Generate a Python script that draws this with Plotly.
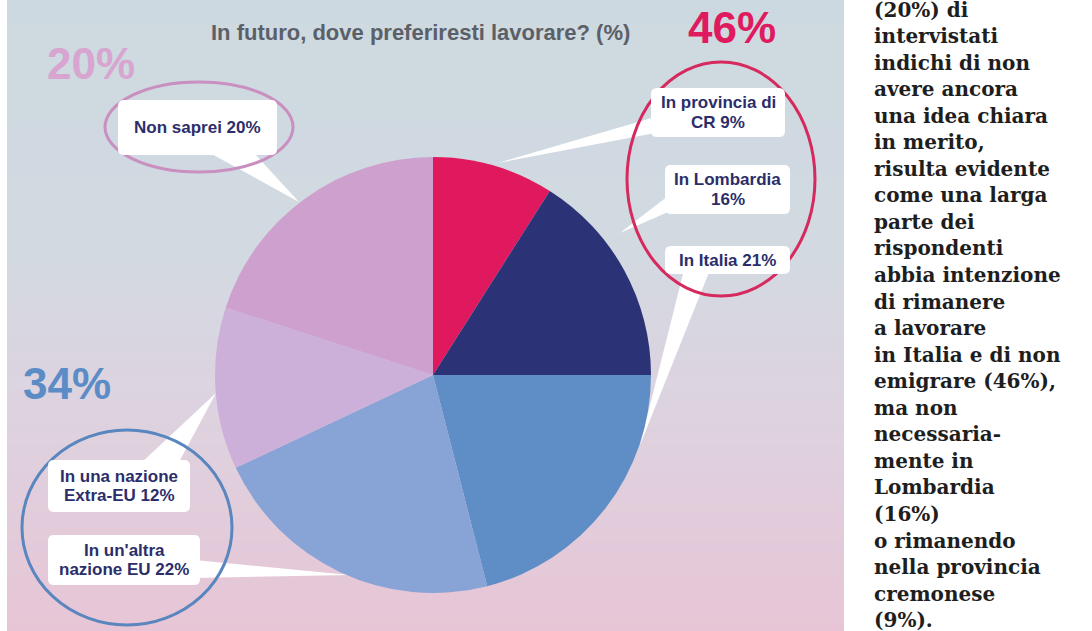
import plotly.graph_objects as go

W, H = 1092, 631

# ---------------- data ----------------
categories = ["In provincia di CR", "In Lombardia", "In Italia",
              "In un'altra nazione EU", "In una nazione Extra-EU", "Non saprei"]
values = [9, 16, 21, 22, 12, 20]
slice_colors = ["#E0195F", "#2B3276", "#5F8EC6", "#88A3D6", "#CDB0DA", "#CDA0CD"]
callout_lines = [["In provincia di", "CR 9%"],
                 ["In Lombardia", "16%"],
                 ["In Italia 21%"],
                 ["In un'altra", "nazione EU 22%"],
                 ["In una nazione", "Extra-EU 12%"],
                 ["Non saprei 20%"]]
groups = {"italia": [0, 1, 2], "estero": [3, 4], "nonso": [5]}
title_text = "In futuro, dove preferiresti lavorare? (%)"
column_lines = ["(20%) di", "intervistati", "indichi di non", "avere ancora",
                "una idea chiara", "in merito,", "risulta evidente",
                "come una larga", "parte dei", "rispondenti",
                "abbia intenzione", "di rimanere", "a lavorare",
                "in Italia e di non", "emigrare (46%),", "ma non",
                "necessaria-", "mente in", "Lombardia", "(16%)",
                "o rimanendo", "nella provincia", "cremonese", "(9%)."]

# ---------------- layout helpers (pixel -> paper) ----------------
def X(px):
    return px / W

def Y(py):
    return 1 - py / H

def hex2rgb(h):
    h = h.lstrip("#")
    return tuple(int(h[i:i + 2], 16) for i in (0, 2, 4))

shapes = []
annotations = []

# background gradient panel
PX0, PX1 = 7, 844
stops = [(0, "#CDD9E0"), (250, "#D2D9E1"), (400, "#DDD3E0"), (631, "#E7C5D6")]
step = 6
for y0 in range(0, H, step):
    yc = y0 + step / 2
    for (a, ca), (b, cb) in zip(stops[:-1], stops[1:]):
        if a <= yc <= b:
            t = (yc - a) / (b - a)
            r1, g1, b1 = hex2rgb(ca)
            r2, g2, b2 = hex2rgb(cb)
            col = "rgb(%d,%d,%d)" % (round(r1 + (r2 - r1) * t), round(g1 + (g2 - g1) * t), round(b1 + (b2 - b1) * t))
            break
    shapes.append(dict(type="rect", xref="paper", yref="paper", layer="below",
                       x0=X(PX0), x1=X(PX1), y0=Y(y0), y1=Y(min(y0 + step + 1, H)),
                       fillcolor=col, line=dict(width=0)))

# callout geometry, same order as categories
boxes = [(651, 88, 785, 137), (665, 165, 790, 214), (665, 246, 790, 274),
         (48, 535, 200, 585), (48, 460, 190, 512), (118, 100, 277, 155)]
pointers = [[(655, 117), (655, 133), (498, 163)],
            [(668, 196), (668, 212), (620, 233)],
            [(684, 270), (710, 270), (640, 445)],
            [(195, 560), (195, 578), (350, 575)],
            [(140, 464), (178, 464), (216, 393)],
            [(208, 152), (253, 152), (299, 202)]]

for tri in pointers:
    p = "M %f,%f " % (X(tri[0][0]), Y(tri[0][1]))
    p += " ".join("L %f,%f" % (X(a), Y(b)) for a, b in tri[1:]) + " Z"
    shapes.append(dict(type="path", xref="paper", yref="paper", layer="below",
                       path=p, fillcolor="white", line=dict(width=0)))

# group ellipses
ellipses = [((627, 62, 815, 296), "#D62A5E"),
            ((22, 430, 232, 625), "#5A86BF"),
            ((105, 82, 293, 172), "#C98FC0")]
for (x0, y0, x1, y1), c in ellipses:
    shapes.append(dict(type="circle", xref="paper", yref="paper", layer="above",
                       x0=X(x0), x1=X(x1), y0=Y(y1), y1=Y(y0),
                       line=dict(color=c, width=3), fillcolor="rgba(0,0,0,0)"))

def rrect(x0, y0, x1, y1, r=6):
    pts = [
        "M %f,%f" % (X(x0 + r), Y(y0)),
        "L %f,%f" % (X(x1 - r), Y(y0)),
        "Q %f,%f %f,%f" % (X(x1), Y(y0), X(x1), Y(y0 + r)),
        "L %f,%f" % (X(x1), Y(y1 - r)),
        "Q %f,%f %f,%f" % (X(x1), Y(y1), X(x1 - r), Y(y1)),
        "L %f,%f" % (X(x0 + r), Y(y1)),
        "Q %f,%f %f,%f" % (X(x0), Y(y1), X(x0), Y(y1 - r)),
        "L %f,%f" % (X(x0), Y(y0 + r)),
        "Q %f,%f %f,%f" % (X(x0), Y(y0), X(x0 + r), Y(y0)),
        "Z",
    ]
    return " ".join(pts)

LABEL_FONT = dict(family="Liberation Sans, Arial, sans-serif", size=17, color="#2B2E6A")
for (x0, y0, x1, y1), lines in zip(boxes, callout_lines):
    shapes.append(dict(type="path", xref="paper", yref="paper", layer="above",
                       path=rrect(x0, y0, x1, y1), fillcolor="white", line=dict(width=0)))
    cx, cy = (x0 + x1) / 2, (y0 + y1) / 2
    n = len(lines)
    for i, ln in enumerate(lines):
        ly = cy + (i - (n - 1) / 2) * 19.5
        annotations.append(dict(xref="paper", yref="paper", x=X(cx), y=Y(ly),
                                xanchor="center", yanchor="middle", showarrow=False,
                                text="<b>%s</b>" % ln, font=LABEL_FONT))

# big group percentages
big = [("italia", (732, 28), "#E01A5F"),
       ("estero", (67, 383), "#5B8CC6"),
       ("nonso", (91, 63), "#D7A5D0")]
for key, (cx, cy), c in big:
    tot = sum(values[i] for i in groups[key])
    annotations.append(dict(xref="paper", yref="paper", x=X(cx), y=Y(cy),
                            xanchor="center", yanchor="middle", showarrow=False,
                            text="<b>%d%%</b>" % tot,
                            font=dict(family="Liberation Sans, Arial, sans-serif", size=44, color=c)))

# title
annotations.append(dict(xref="paper", yref="paper", x=X(420), y=Y(32),
                        xanchor="center", yanchor="middle", showarrow=False,
                        text="<b>%s</b>" % title_text,
                        font=dict(family="Liberation Sans, Arial, sans-serif", size=22, color="#5B6068")))

# right text column
for i, ln in enumerate(column_lines):
    base = 16.5 + 26.55 * i
    annotations.append(dict(xref="paper", yref="paper", x=X(872), y=Y(base - 7),
                            xanchor="left", yanchor="middle", showarrow=False,
                            text="<b>%s</b>" % ln,
                            font=dict(family="DejaVu Serif, serif", size=20, color="#1E1E1E")))

# ---------------- pie ----------------
cx, cy, R = 433, 375, 218
fig = go.Figure(go.Pie(
    labels=categories, values=values, sort=False, direction="clockwise", rotation=0,
    marker=dict(colors=slice_colors, line=dict(width=0)),
    textinfo="none", hoverinfo="label+percent", showlegend=False,
    domain=dict(x=[X(cx - R), X(cx + R)], y=[Y(cy + R), Y(cy - R)]),
))

fig.update_layout(
    width=W, height=H, margin=dict(l=0, r=0, t=0, b=0),
    paper_bgcolor="white", plot_bgcolor="rgba(0,0,0,0)",
    shapes=shapes, annotations=annotations, showlegend=False,
)

fig.write_html("out.html")
